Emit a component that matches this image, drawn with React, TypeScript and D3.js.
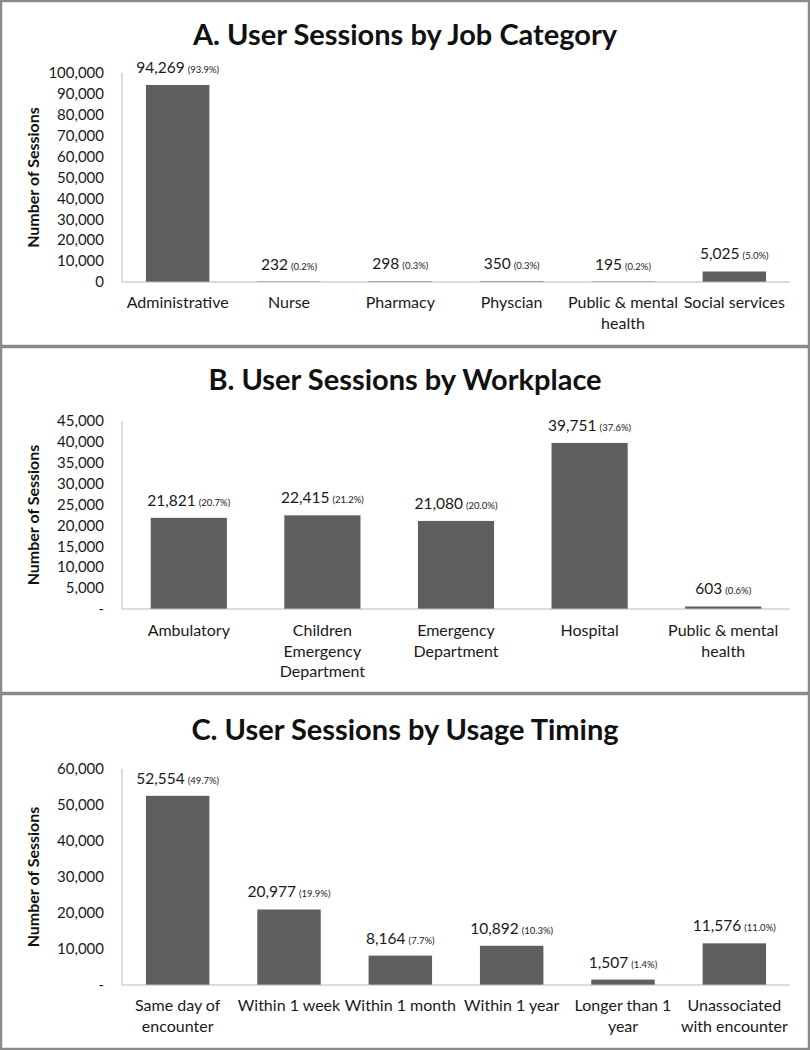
import React from "react";
import * as d3 from "d3";

const jobCategories = ["Administrative", "Nurse", "Pharmacy", "Physcian", "Public & mental\nhealth", "Social services"];
const jobValues = [94269, 232, 298, 350, 195, 5025];
const jobPercents = ["93.9%", "0.2%", "0.3%", "0.3%", "0.2%", "5.0%"];

const workCategories = ["Ambulatory", "Children\nEmergency\nDepartment", "Emergency\nDepartment", "Hospital", "Public & mental\nhealth"];
const workValues = [21821, 22415, 21080, 39751, 603];
const workPercents = ["20.7%", "21.2%", "20.0%", "37.6%", "0.6%"];

const timingCategories = ["Same day of\nencounter", "Within 1 week", "Within 1 month", "Within 1 year", "Longer than 1\nyear", "Unassociated\nwith encounter"];
const timingValues = [52554, 20977, 8164, 10892, 1507, 11576];
const timingPercents = ["49.7%", "19.9%", "7.7%", "10.3%", "1.4%", "11.0%"];

const titles = ["A. User Sessions by Job Category", "B. User Sessions by Workplace", "C. User Sessions by Usage Timing"];
const yMaxes = [100000, 45000, 60000];
const yTickSteps = [10000, 5000, 10000];
const zeroLabels = ["0", "-", "-"];
const yAxisTitle = "Number of Sessions";

const FONT = "Lato, 'Open Sans', sans-serif";
const BAR = "#5f5f5f";
const AXIS = "#b8b8b8";
const FRAME = "#8a8a8a";

type PanelProps = {
  top: number;
  bottom: number;
  titleY: number;
  plotTop: number;
  plotBottom: number;
  labelY: number;
  title: string;
  categories: string[];
  values: number[];
  percents: string[];
  yMax: number;
  step: number;
  zeroLabel: string;
  padding: number;
};

function Panel(p: PanelProps) {
  const x0 = 122;
  const x1 = 790;
  const x = d3.scaleBand<string>().domain(p.categories).range([x0, x1]).paddingInner(p.padding).paddingOuter(p.padding / 2);
  const y = d3.scaleLinear().domain([0, p.yMax]).range([p.plotBottom, p.plotTop]);
  const ticks = d3.range(0, p.yMax + 1, p.step);
  const fmt = d3.format(",");
  return (
    <g>
      <rect x={1} y={p.top + 1} width={808} height={p.bottom - p.top - 2} fill="#fff" stroke={FRAME} strokeWidth={2.5} />
      <text x={405} y={p.titleY} textAnchor="middle" fontFamily={FONT} fontWeight="bold" fontSize={29} fill="#111">
        {p.title}
      </text>
      <text
        transform={`translate(39,${(p.plotTop + p.plotBottom) / 2}) rotate(-90)`}
        textAnchor="middle"
        fontFamily={FONT}
        fontWeight="bold"
        fontSize={16}
        fill="#111"
      >
        {yAxisTitle}
      </text>
      {ticks.map((t) => (
        <text key={t} x={104} y={y(t)} dy="0.35em" textAnchor="end" fontFamily={FONT} fontSize={15} fill="#1a1a1a">
          {t === 0 ? p.zeroLabel : fmt(t)}
        </text>
      ))}
      {p.categories.map((c, i) => {
        const bx = x(c)!;
        const v = p.values[i];
        const ty = y(v);
        return (
          <g key={c}>
            <rect x={bx} y={ty} width={x.bandwidth()} height={p.plotBottom - ty} fill={BAR} />
            <text x={bx + x.bandwidth() / 2} y={ty - 12} textAnchor="middle" fontFamily={FONT} fill="#1a1a1a">
              <tspan fontSize={15.5}>{fmt(v)}</tspan>
              <tspan fontSize={9.5} dx={3}>({p.percents[i]})</tspan>
            </text>
            {c.split("\n").map((line, j) => (
              <text
                key={j}
                x={bx + x.bandwidth() / 2}
                y={p.labelY + j * 20.5}
                textAnchor="middle"
                fontFamily={FONT}
                fontSize={16}
                fill="#1a1a1a"
              >
                {line}
              </text>
            ))}
          </g>
        );
      })}
      <line x1={x0} x2={x0} y1={p.plotTop} y2={p.plotBottom} stroke={AXIS} strokeWidth={1} />
      <line x1={x0} x2={x1} y1={p.plotBottom} y2={p.plotBottom} stroke={AXIS} strokeWidth={1} />
    </g>
  );
}

export default function App() {
  return (
    <svg
      width={810}
      height={1050}
      style={{ position: "absolute", left: 0, top: 0, background: "#fff" }}
    >
      <Panel
        top={0}
        bottom={347}
        titleY={45}
        plotTop={73}
        plotBottom={282}
        labelY={308}
        title={titles[0]}
        categories={jobCategories}
        values={jobValues}
        percents={jobPercents}
        yMax={yMaxes[0]}
        step={yTickSteps[0]}
        zeroLabel={zeroLabels[0]}
        padding={0.43}
      />
      <Panel
        top={346}
        bottom={694}
        titleY={390}
        plotTop={421}
        plotBottom={609}
        labelY={636}
        title={titles[1]}
        categories={workCategories}
        values={workValues}
        percents={workPercents}
        yMax={yMaxes[1]}
        step={yTickSteps[1]}
        zeroLabel={zeroLabels[1]}
        padding={0.43}
      />
      <Panel
        top={693}
        bottom={1050}
        titleY={740}
        plotTop={769}
        plotBottom={985}
        labelY={1011}
        title={titles[2]}
        categories={timingCategories}
        values={timingValues}
        percents={timingPercents}
        yMax={yMaxes[2]}
        step={yTickSteps[2]}
        zeroLabel={zeroLabels[2]}
        padding={0.43}
      />
    </svg>
  );
}
